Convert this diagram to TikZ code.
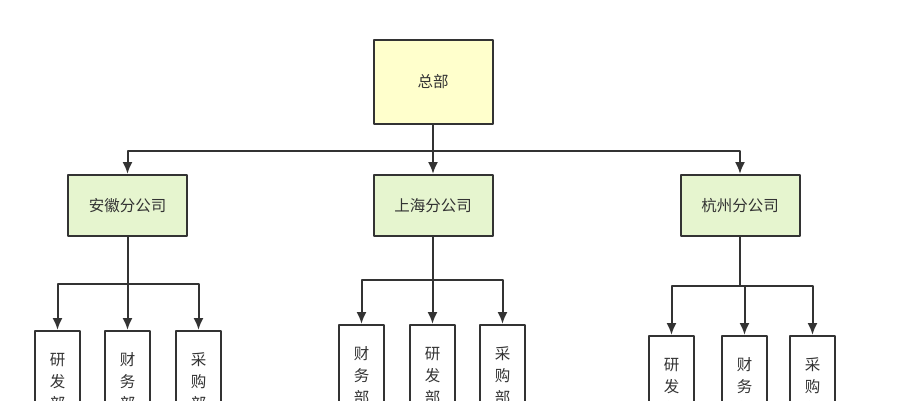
\documentclass[tikz,border=0pt]{standalone}
\usepackage{fontspec}
\setmainfont{Noto Sans CJK SC}
\usetikzlibrary{arrows.meta}
\definecolor{hqfill}{HTML}{FFFFCC}
\definecolor{subfill}{HTML}{E6F5CF}
\definecolor{linec}{HTML}{333333}
\begin{document}
\begin{tikzpicture}[x=1pt,y=-1pt,line cap=round,line join=round,>={Latex[length=12pt,width=10pt]},
	box/.style={draw=linec,line width=2pt,inner sep=0pt,font=\fontsize{15.5}{22}\selectfont,text=linec},
	hq/.style={box,fill=hqfill,minimum width=119pt,minimum height=84pt},
	branch/.style={box,fill=subfill,minimum width=119pt,minimum height=61pt},
	dept/.style={box,fill=white,minimum width=45pt,minimum height=100pt,align=center,anchor=north,text depth=0pt},
	link/.style={draw=linec,line width=2pt}]
	\useasboundingbox (0,0) rectangle (914,400);
	\clip (0,0) rectangle (914,400);
	\node[hq] (zb) at (433,82) {总部};
	\node[branch] (ah) at (127.5,205.5) {安徽分公司};
	\node[branch] (sh) at (433,205.5) {上海分公司};
	\node[branch] (hz) at (740,205.5) {杭州分公司};
	% departments
	\node[dept] (ah1) at (57.5,330) {\\[-10pt]研\\发\\部};
	\node[dept] (ah2) at (127.5,330) {\\[-10pt]财\\务\\部};
	\node[dept] (ah3) at (198.5,330) {\\[-10pt]采\\购\\部};
	\node[dept] (sh1) at (361.5,324) {\\[-10pt]财\\务\\部};
	\node[dept] (sh2) at (432.5,324) {\\[-10pt]研\\发\\部};
	\node[dept] (sh3) at (502.5,324) {\\[-10pt]采\\购\\部};
	\node[dept] (hz1) at (671.5,335) {\\[-10pt]研\\发\\部};
	\node[dept] (hz2) at (744.5,335) {\\[-10pt]财\\务\\部};
	\node[dept] (hz3) at (812.5,335) {\\[-10pt]采\\购\\部};
	% connectors
	\foreach \t in {ah,sh,hz}
		\draw[link,->] (zb.south) -- ++(0,26) -| (\t.north);
	\foreach \t in {ah1,ah2,ah3}
		\draw[link,->] (ah.south) -- ++(0,47) -| (\t.north);
	\foreach \t in {sh1,sh2,sh3}
		\draw[link,->] (sh.south) -- ++(0,43) -| (\t.north);
	\foreach \t in {hz1,hz2,hz3}
		\draw[link,->] (hz.south) -- ++(0,49) -| (\t.north);
\end{tikzpicture}
\end{document}
